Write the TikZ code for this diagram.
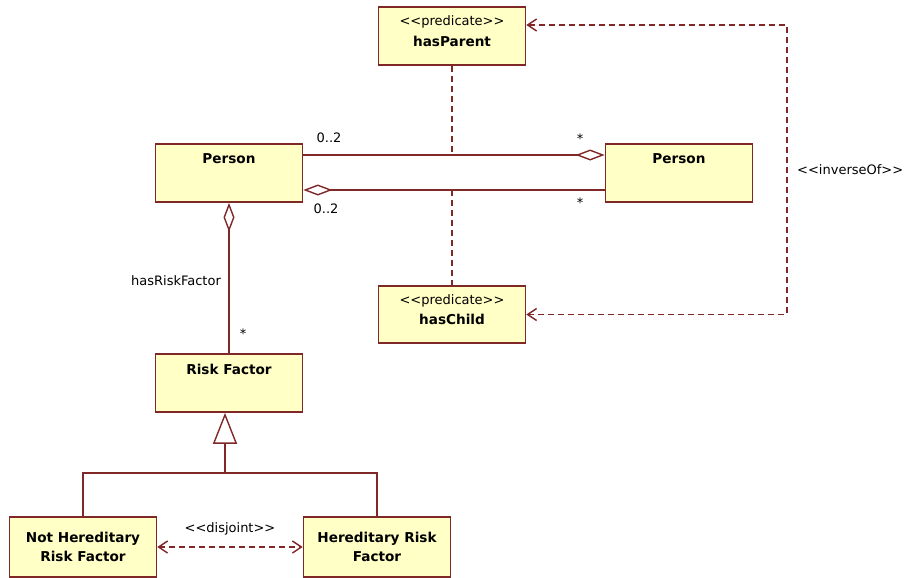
\documentclass[tikz,border=0pt]{standalone}
\usepackage{fontspec}
\setmainfont{DejaVu Sans}
\usetikzlibrary{arrows.meta,calc}
\definecolor{umlline}{RGB}{128,40,40}
\definecolor{umlfill}{RGB}{255,255,198}
% guillemet-free stereotype brackets
\newcommand\stereo[1]{\mbox{<}\mbox{<}#1\mbox{>}\mbox{>}}
% arrow tips used by the connectors
\tikzset{
  agg/.tip={Diamond[open, fill=white, length=29pt, width=11pt, line width=1.4pt]},
  barb/.tip={Straight Barb[length=9pt, width=12pt, line width=1.4pt]},
  gen/.tip={Triangle[open, fill=white, length=31pt, width=24pt, line width=1.4pt]}
}
\begin{document}
\begin{tikzpicture}[x=1pt,y=-1pt,
  classbox/.style={draw=umlline, fill=umlfill, line width=1.7pt, rectangle,
    inner sep=0pt, minimum width=147pt, minimum height=58pt},
  txt/.style={inner sep=0pt, font=\fontsize{13}{15}\selectfont, text=black},
  bold/.style={inner sep=0pt, font=\fontsize{13.6}{18.5}\selectfont\bfseries, text=black, align=center},
  assoc/.style={draw=umlline, line width=1.7pt},
  dep/.style={draw=umlline, line width=1.7pt, dash pattern=on 6pt off 4pt}
]
\useasboundingbox (0,0) rectangle (910,578);

% predicate boxes
\node[classbox] (hp) at (452,36) {};
\node[txt]  (hpS) at ($(hp.north)+(0,16)$) {\stereo{predicate}};
\node[bold] (hpN) at ($(hp.north)+(0,35)$) {hasParent};

\node[classbox, minimum height=57pt] (hc) at (452,314.5) {};
\node[txt]  (hcS) at ($(hc.north)+(0,16)$) {\stereo{predicate}};
\node[bold] (hcN) at ($(hc.north)+(0,34)$) {hasChild};

% classes
\node[classbox] (pl) at (229,173) {};
\node[bold] (plN) at ($(pl.north)+(0,15)$) {Person};

\node[classbox] (pr) at (679,173) {};
\node[bold] (prN) at ($(pr.north)+(0,15)$) {Person};

\node[classbox] (rf) at (229,383) {};
\node[bold] (rfN) at ($(rf.north)+(0,16)$) {Risk Factor};

\node[classbox, minimum height=60pt] (nh) at (83,547) {};
\node[bold] (nhN) at (nh.center) {Not Hereditary\\Risk Factor};

\node[classbox, minimum height=60pt] (hr) at (377,547) {};
\node[bold] (hrN) at (hr.center) {Hereditary Risk\\Factor};

% helper coordinates
\coordinate (yTop) at (0,155);
\coordinate (yBot) at (0,190);
\coordinate (invR) at (787,0);
\coordinate (hpIn) at ($(hp.east)+(0,-11)$);
\coordinate (gj) at (225,473);

% Person -- Person associations
\draw[assoc, -{agg}] (pl.east |- yTop) -- (pr.west |- yTop);
\draw[assoc, {agg}-] (pl.east |- yBot) -- (pr.west |- yBot);
\node[txt] (m1) at (329,138) {0..2};
\node[txt] (m2) at (326,209) {0..2};
\node[txt] (m3) at (580,139) {*};
\node[txt] (m4) at (580,203) {*};

% predicate attachments
\draw[dep] (hp.south) -- (hp.south |- yTop);
\draw[dep] (hc.north |- yBot) -- (hc.north);

% inverseOf dependency
\draw[dep, {barb}-{barb}] (hc.east) -- (hc.east -| invR) -- (invR |- hpIn) -- (hpIn);
\node[txt, anchor=west] (inv) at (797,170) {\stereo{inverseOf}};

% hasRiskFactor aggregation
\draw[assoc, {agg}-] (pl.south) -- (rf.north);
\node[txt] (hrf) at (176,281) {hasRiskFactor};
\node[txt] (m5) at (243,334) {*};

% generalization
\draw[assoc] (nh.north) -- (nh.north |- gj) -- (hr.north |- gj) -- (hr.north);
\draw[assoc, -{gen}] (gj) -- (gj |- rf.south);

% disjoint
\draw[dep, {barb}-{barb}] (nh.east) -- (hr.west);
\node[txt] (dj) at (230,529) {\stereo{disjoint}};
\end{tikzpicture}
\end{document}
